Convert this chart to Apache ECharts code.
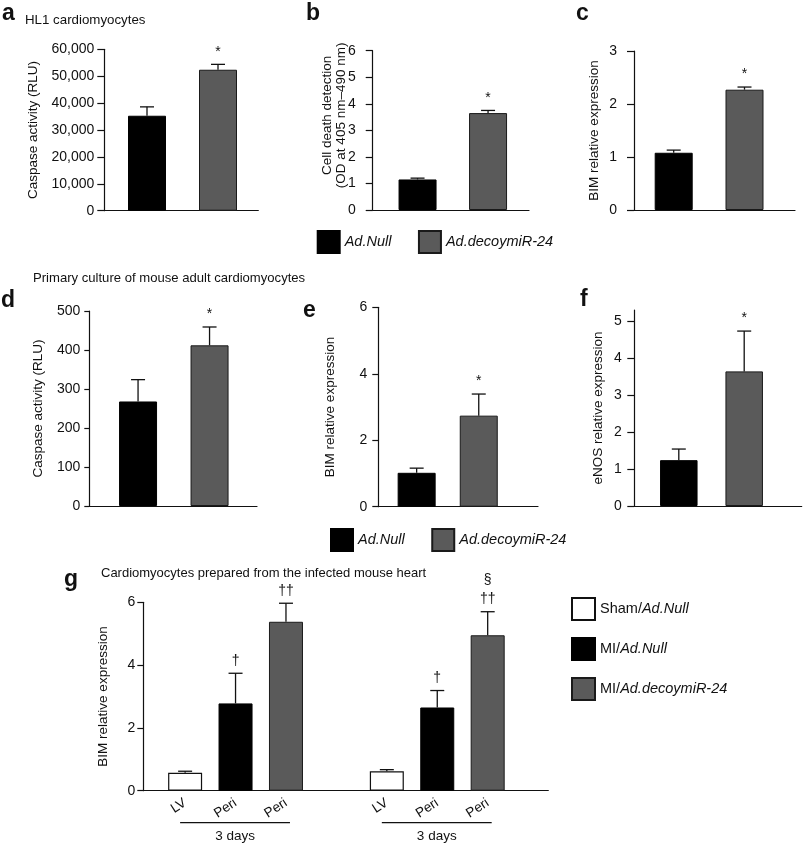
<!DOCTYPE html>
<html><head><meta charset="utf-8">
<script src="https://cdn.jsdelivr.net/npm/echarts@6/dist/echarts.min.js"></script>
<style>html,body{margin:0;padding:0;background:#fff}#chart{width:803px;height:843px}</style>
</head><body><div id="chart"></div>
<script>
// ---------------- data ----------------
const treatments = ['Ad.Null', 'Ad.decoymiR-24'];

const aValues = [35300, 52400];
const aErrors = [3300, 2000];
const aMarks = ['', '*'];
const aTicks = [0, 10000, 20000, 30000, 40000, 50000, 60000];

const bValues = [1.15, 3.65];
const bErrors = [0.05, 0.10];
const bMarks = ['', '*'];
const bTicks = [0, 1, 2, 3, 4, 5, 6];

const cValues = [1.08, 2.27];
const cErrors = [0.05, 0.05];
const cMarks = ['', '*'];
const cTicks = [0, 1, 2, 3];

const dValues = [268, 412];
const dErrors = [56, 47];
const dMarks = ['', '*'];
const dTicks = [0, 100, 200, 300, 400, 500];

const eValues = [1.02, 2.74];
const eErrors = [0.14, 0.65];
const eMarks = ['', '*'];
const eTicks = [0, 2, 4, 6];

const fValues = [1.24, 3.64];
const fErrors = [0.30, 1.09];
const fMarks = ['', '*'];
const fTicks = [0, 1, 2, 3, 4, 5];

const gCategories = ['LV', 'Peri', 'Peri', '', 'LV', 'Peri', 'Peri'];
const gGroups = ['Sham/Ad.Null', 'MI/Ad.Null', 'MI/Ad.decoymiR-24'];
const gShamNull = [0.57, '-', '-', '-', 0.62, '-', '-'];
const gMINull = ['-', 2.78, '-', '-', '-', 2.65, '-'];
const gMIDecoy = ['-', '-', 5.38, '-', '-', '-', 4.95];
const gErrors = [0.05, 0.96, 0.59, null, 0.05, 0.54, 0.75];
const gMarks = ['', '†', '††', '', '', '†', '§\n††'];
const gTicks = [0, 2, 4, 6];
const gSpans = [[0, 2], [4, 6]];
const gSpanLabels = ['3 days', '3 days'];

// ---------------- styling / layout ----------------
const FONT = "'Liberation Sans', Arial, Helvetica, sans-serif";
const INK = '#111';
const BLACK = '#000';
const GREY = '#5a5a5a';

const option = {
  animation: false,
  backgroundColor: '#fff',
  textStyle: { fontFamily: FONT },
  title: [], legend: [], grid: [], xAxis: [], yAxis: [], series: []
};

function errSeries(axisIdx, items, marks) {
  return {
    type: 'custom', name: 'err' + axisIdx, xAxisIndex: axisIdx, yAxisIndex: axisIdx,
    clip: false, silent: true, z: 5, data: items,
    renderItem: function (params, api) {
      const k = api.value(0), v = api.value(1), e = api.value(2);
      const p0 = api.coord([k, v]);
      const p1 = api.coord([k, v + e]);
      const st = { stroke: INK, lineWidth: 1.3 };
      const ch = [
        { type: 'line', shape: { x1: p0[0], y1: p0[1], x2: p1[0], y2: p1[1] }, style: st },
        { type: 'line', shape: { x1: p1[0] - 7, y1: p1[1], x2: p1[0] + 7, y2: p1[1] }, style: st }
      ];
      const m = marks[k];
      if (m) ch.push({ type: 'text', x: p1[0], y: p1[1] - 3,
        style: { text: m, align: 'center', verticalAlign: 'bottom', fontSize: 14, lineHeight: 19,
                 fill: INK, fontFamily: FONT } });
      return { type: 'group', children: ch };
    }
  };
}

function addPanel(p) {
  const gi = option.grid.length;
  const [l, t, r, b] = p.axis;
  option.grid.push({ left: l, top: t, width: r - l, height: b - t, outerBoundsMode: 'none' });
  option.grid.push({ left: p.bars[0], top: t, width: p.bars[1], height: b - t, outerBoundsMode: 'none' });
  const lineStyle = { color: INK, width: 1.2 };
  option.xAxis.push({ gridIndex: gi, type: 'category', data: [''],
    axisLine: { show: true, lineStyle }, axisTick: { show: false }, axisLabel: { show: false },
    splitLine: { show: false } });
  option.yAxis.push({ gridIndex: gi, type: 'value', min: 0, max: p.max, interval: p.interval,
    axisLine: { show: true, lineStyle },
    axisTick: { show: true, length: p.tickLen, lineStyle, customValues: p.ticks },
    axisLabel: { show: true, customValues: p.ticks, margin: p.labelMargin, fontSize: 14, color: INK,
      fontFamily: FONT, formatter: p.fmt || (v => String(v)) },
    splitLine: { show: false },
    name: p.name, nameLocation: 'middle', nameGap: p.nameGap, nameMoveOverlap: false,
    nameTextStyle: { fontSize: 13.5, color: INK, lineHeight: 14.5, fontFamily: FONT,
      padding: p.namePad || 0 } });
  option.xAxis.push({ gridIndex: gi + 1, type: 'category', data: p.categories,
    show: !!p.catLabels,
    axisLine: { show: false }, axisTick: { show: false },
    axisLabel: p.catLabels ? { show: true, interval: 0, rotate: 33, margin: 11, fontSize: 13.5,
      color: INK, fontFamily: FONT } : { show: false },
    splitLine: { show: false } });
  option.yAxis.push({ gridIndex: gi + 1, type: 'value', min: 0, max: p.max, show: false,
    splitLine: { show: false } });
  p.barSeries.forEach(s => option.series.push(Object.assign({
    type: 'bar', xAxisIndex: gi + 1, yAxisIndex: gi + 1, barWidth: p.barWidth, barGap: '-100%'
  }, s)));
  option.series.push(errSeries(gi + 1, p.errItems, p.marks));
  return gi + 1;
}

const blackStyle = { color: BLACK, borderColor: BLACK, borderWidth: 1 };
const greyStyle = { color: GREY, borderColor: '#1a1a1a', borderWidth: 1 };
const whiteStyle = { color: '#fff', borderColor: '#111', borderWidth: 1.2 };

function twoBars(values) {
  return [
    { name: treatments[0], data: [values[0], '-'], itemStyle: blackStyle },
    { name: treatments[1], data: ['-', values[1]], itemStyle: greyStyle }
  ];
}
function errItems(values, errors) {
  const out = [];
  values.forEach((v, i) => { if (v !== '-' && errors[i] != null) out.push([i, v, errors[i]]); });
  return out;
}
const fmtThousands = v => v.toLocaleString('en-US');

addPanel({ axis: [104.3, 49.3, 258.3, 210.7], bars: [111.5, 142], max: 60000, interval: 10000,
  ticks: aTicks, tickLen: 7, labelMargin: 10, nameGap: 64, name: 'Caspase activity (RLU)',
  fmt: fmtThousands, categories: treatments, barWidth: 38, barSeries: twoBars(aValues),
  errItems: errItems(aValues, aErrors), marks: aMarks });
addPanel({ axis: [372.7, 50.7, 529, 210], bars: [382.3, 141], max: 6, interval: 1,
  ticks: bTicks, tickLen: 7, labelMargin: 17, nameGap: 24, namePad: [0, 0, 0, 30],
  name: 'Cell death detection\n(OD at 405 nm\u2013490 nm)',
  categories: treatments, barWidth: 38, barSeries: twoBars(bValues),
  errItems: errItems(bValues, bErrors), marks: bMarks });
addPanel({ axis: [634, 51, 795, 210], bars: [638.3, 141.6], max: 3, interval: 1,
  ticks: cTicks, tickLen: 7, labelMargin: 17, nameGap: 32, name: 'BIM relative expression',
  categories: treatments, barWidth: 38, barSeries: twoBars(cValues),
  errItems: errItems(cValues, cErrors), marks: cMarks });
addPanel({ axis: [89.3, 311, 257, 506], bars: [102.3, 143], max: 500, interval: 100,
  ticks: dTicks, tickLen: 5, labelMargin: 9, nameGap: 44, name: 'Caspase activity (RLU)',
  categories: treatments, barWidth: 38, barSeries: twoBars(dValues),
  errItems: errItems(dValues, dErrors), marks: dMarks });
addPanel({ axis: [378.3, 307.3, 538, 506.7], bars: [385.6, 124.2], max: 6, interval: 2,
  ticks: eTicks, tickLen: 6, labelMargin: 11, nameGap: 41, name: 'BIM relative expression',
  categories: treatments, barWidth: 38, barSeries: twoBars(eValues),
  errItems: errItems(eValues, eErrors), marks: eMarks });
addPanel({ axis: [634.3, 310, 801.7, 506], bars: [646.1, 130.8], max: 5.3, interval: 1,
  ticks: fTicks, tickLen: 7, labelMargin: 12.6, nameGap: 29, name: 'eNOS relative expression',
  categories: treatments, barWidth: 37.5, barSeries: twoBars(fValues),
  errItems: errItems(fValues, fErrors), marks: fMarks });

const gCombined = gCategories.map((c, i) =>
  [gShamNull[i], gMINull[i], gMIDecoy[i]].find(v => v !== '-') ?? '-');
const gGrid = addPanel({ axis: [143.3, 602.3, 548.3, 790.7], bars: [159.9, 353], max: 6, interval: 2,
  ticks: gTicks, tickLen: 6, labelMargin: 8, nameGap: 33, name: 'BIM relative expression',
  categories: gCategories, catLabels: true, barWidth: 34,
  barSeries: [
    { name: gGroups[0], data: gShamNull, itemStyle: whiteStyle },
    { name: gGroups[1], data: gMINull, itemStyle: blackStyle },
    { name: gGroups[2], data: gMIDecoy, itemStyle: greyStyle }
  ],
  errItems: errItems(gCombined, gErrors), marks: gMarks });

// titles
function T(text, left, top, size, bold) {
  option.title.push({ text, left, top, padding: 0,
    textStyle: { fontSize: size, fontWeight: bold ? 'bold' : 'normal', color: INK, fontFamily: FONT } });
}
T('a', 2, 2, 23, true);
T('HL1 cardiomyocytes', 25, 14, 13.3);
T('b', 306, 2, 23, true);
T('c', 576, 2, 23, true);
T('Primary culture of mouse adult cardiomyocytes', 33, 272, 13.1);
T('d', 1, 289, 23, true);
T('e', 303, 299, 23, true);
T('f', 580, 288, 23, true);
T('g', 64, 568, 23, true);
T('Cardiomyocytes prepared from the infected mouse heart', 101, 567, 13);

// legends
const legBase = { icon: 'rect', itemWidth: 22, itemHeight: 22, itemGap: 26.5, padding: 0,
  selectedMode: false, orient: 'horizontal',
  textStyle: { fontSize: 14.5, fontStyle: 'italic', color: INK, fontFamily: FONT } };
option.legend.push(Object.assign({}, legBase, { left: 316.7, top: 230, data: treatments }));
option.legend.push(Object.assign({}, legBase, { left: 330, top: 528, data: treatments }));
option.legend.push({ icon: 'rect', itemWidth: 23, itemHeight: 22, itemGap: 16, padding: 0,
  selectedMode: false, orient: 'vertical', left: 571, top: 597, data: gGroups,
  formatter: name => { const k = name.indexOf('/'); return name.slice(0, k + 1) + '{i|' + name.slice(k + 1) + '}'; },
  textStyle: { fontSize: 14.5, color: INK, fontFamily: FONT,
    rich: { i: { fontStyle: 'italic', fontSize: 14.5, color: INK, fontFamily: FONT } } } });

const chart = echarts.init(document.getElementById('chart'), null, { renderer: 'canvas' });
chart.setOption(option);

// group brackets under panel g, placed through the axis scale
const gfx = [];
gSpans.forEach((s, i) => {
  const x0 = chart.convertToPixel({ gridIndex: gGrid }, [s[0], 0])[0] - 5;
  const x1 = chart.convertToPixel({ gridIndex: gGrid }, [s[1], 0])[0] + 4;
  gfx.push({ type: 'line', shape: { x1: x0, y1: 822.7, x2: x1, y2: 822.7 },
    style: { stroke: INK, lineWidth: 1.2 } });
  gfx.push({ type: 'text', x: (x0 + x1) / 2, y: 836,
    style: { text: gSpanLabels[i], align: 'center', verticalAlign: 'middle', fontSize: 13.5,
      fill: INK, fontFamily: FONT } });
});
chart.setOption({ graphic: gfx });
</script></body></html>
